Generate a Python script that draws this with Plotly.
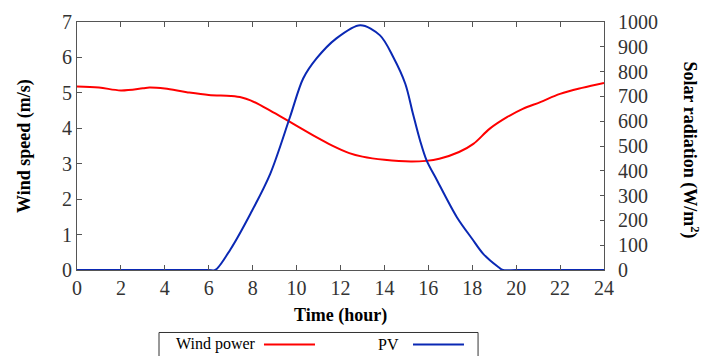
import plotly.graph_objects as go

# ---- data ----
hours_wind = [0, 1, 2, 3, 3.3, 4, 5, 6, 7, 7.5, 7.9, 8.8, 9.7, 10.9, 11.6, 12.4, 13, 14, 15.2,
              15.9, 16.5, 17.4, 18.05, 18.8, 19.6, 20.3, 21.1, 22, 23, 24]
wind_speed = [5.18, 5.15, 5.07, 5.13, 5.15, 5.12, 5.02, 4.94, 4.91, 4.87, 4.79, 4.5, 4.18, 3.75,
              3.52, 3.3, 3.2, 3.11, 3.06, 3.08, 3.14, 3.33, 3.56, 3.99, 4.32, 4.55, 4.74, 4.97,
              5.14, 5.28]

hours_pv = [0, 2, 4, 6, 6.3, 7, 7.9, 8.8, 9.7, 10.3, 10.9, 11.8, 12.9, 13.8, 14.4, 14.95, 15.3,
            15.62, 15.92, 16.4, 17.3, 18.0, 18.5, 19.2, 19.4, 20, 22, 24]
solar = [0, 0, 0, 0, 0, 85, 227, 388, 617, 772, 852, 933, 987, 946, 859, 751, 630,
         523, 442, 361, 213, 125, 65, 11, 0, 0, 0, 0]

x_ticks = list(range(0, 25, 2))
names = ["Wind power", "PV"]
colors = ["#ff0000", "#0a28b4"]

FONT = "Liberation Serif"
AX = "#555555"

fig = go.Figure()
fig.add_trace(go.Scatter(x=hours_wind, y=wind_speed, mode="lines", name=names[0],
                         line=dict(color=colors[0], width=2, shape="spline", smoothing=1.0),
                         yaxis="y"))
fig.add_trace(go.Scatter(x=hours_pv, y=solar, mode="lines", name=names[1],
                         line=dict(color=colors[1], width=2, shape="spline", smoothing=0.9),
                         yaxis="y2"))

fig.update_layout(
    width=704, height=356,
    margin=dict(l=77, r=100, t=22, b=86),
    plot_bgcolor="white", paper_bgcolor="white",
    showlegend=False,
    font=dict(family=FONT, size=20, color="#333333"),
    xaxis=dict(range=[0, 24], tickvals=x_ticks, ticks="inside", ticklen=5, tickcolor=AX,
               showline=True, linecolor=AX, linewidth=1, mirror="ticks", showgrid=False,
               zeroline=False),
    yaxis=dict(range=[0, 7], dtick=1, ticks="inside", ticklen=5, tickcolor=AX,
               showline=True, linecolor=AX, linewidth=1, showgrid=False, zeroline=False),
    yaxis2=dict(range=[0, 1000], dtick=100, ticks="inside", ticklen=4, tickcolor=AX,
                showline=True, linecolor=AX, linewidth=1, showgrid=False, zeroline=False,
                overlaying="y", side="right", ticklabelstandoff=9),
)

title_font = dict(family=FONT, size=18, color="black")
fig.add_annotation(text="<b>Time (hour)</b>", xref="paper", yref="paper", x=0.5, y=-0.183,
                   xanchor="center", yanchor="middle", showarrow=False, font=title_font)
fig.add_annotation(text="<b>Wind speed (m/s)</b>", xref="paper", yref="paper", x=-0.1006, y=0.5,
                   xanchor="center", yanchor="middle", textangle=-90, showarrow=False,
                   font=title_font)
fig.add_annotation(text="<b>Solar radiation (W/m<sup>2</sup>)</b>", xref="paper", yref="paper",
                   x=1.163, y=0.482, xanchor="center", yanchor="middle", textangle=90,
                   showarrow=False, font=title_font)

# custom legend (text followed by line sample)
fig.add_shape(type="rect", xref="paper", yref="paper", x0=0.1556, x1=0.761, y0=-0.252, y1=-0.6,
              line=dict(color="#333333", width=1), fillcolor="white")
leg_font = dict(family=FONT, size=16, color="black")
leg_y = -0.300
fig.add_annotation(text=names[0], xref="paper", yref="paper", x=0.3435, y=leg_y,
                   xanchor="right", yanchor="middle", showarrow=False, font=leg_font)
fig.add_shape(type="line", xref="paper", yref="paper", x0=0.3548, x1=0.4516, y0=leg_y, y1=leg_y,
              line=dict(color=colors[0], width=2))
fig.add_annotation(text=names[1], xref="paper", yref="paper", x=0.615, y=leg_y,
                   xanchor="right", yanchor="middle", showarrow=False, font=leg_font)
fig.add_shape(type="line", xref="paper", yref="paper", x0=0.6376, x1=0.7343, y0=leg_y, y1=leg_y,
              line=dict(color=colors[1], width=2))

fig.write_html("out.html")
